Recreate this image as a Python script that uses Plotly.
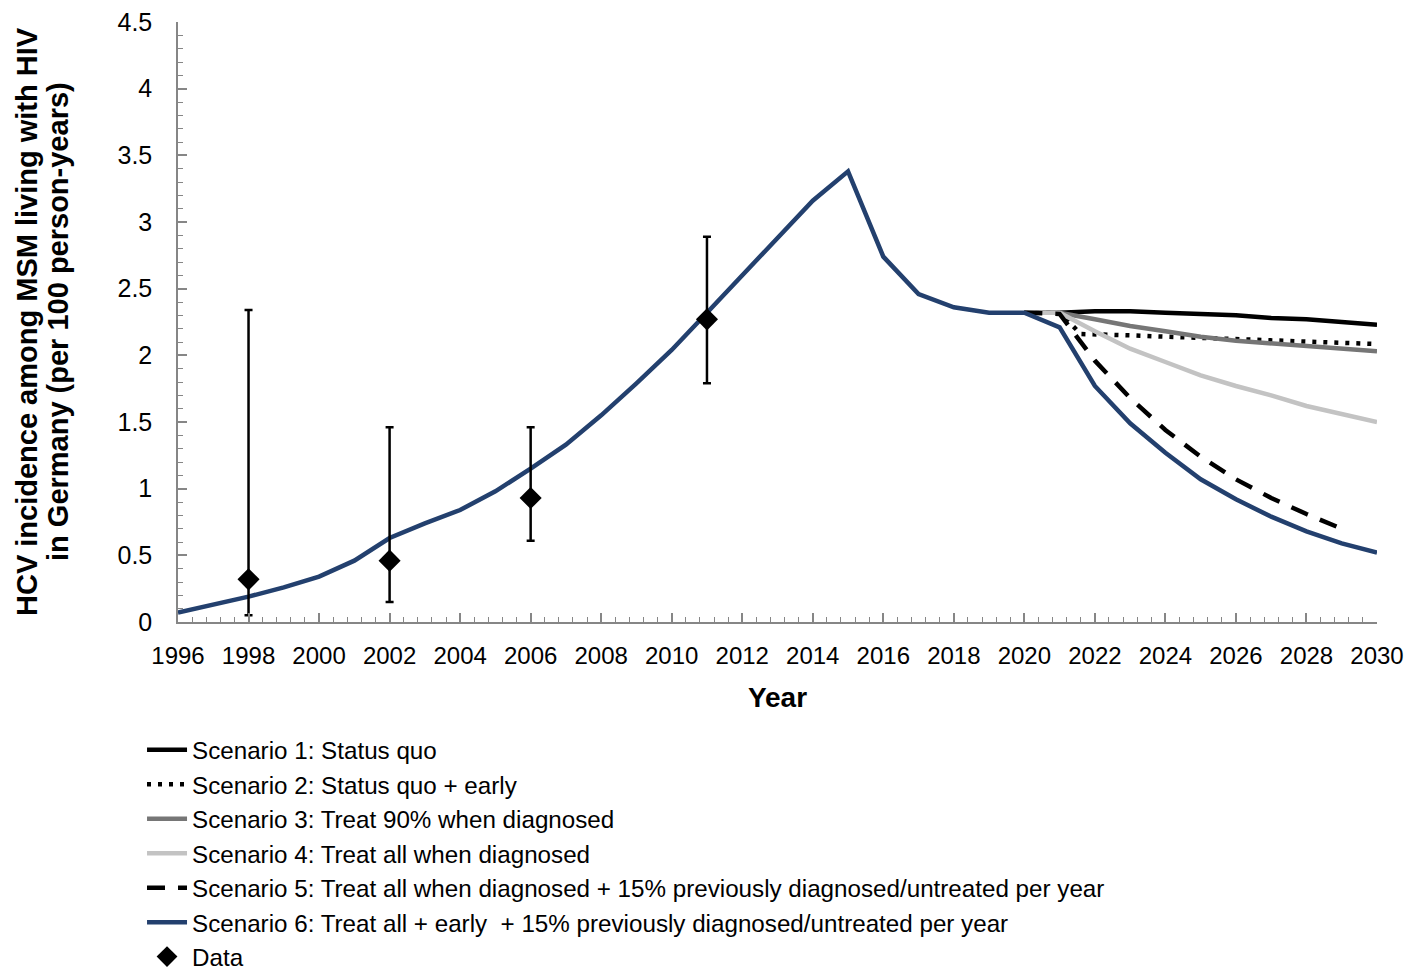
import plotly.graph_objects as go

FONT = "Liberation Sans, Arial, sans-serif"

years_hist = list(range(1996, 2031))
s6 = [0.07, 0.13, 0.19, 0.26, 0.34, 0.46, 0.63, 0.74, 0.84, 0.98,
      1.15, 1.33, 1.55, 1.79, 2.04, 2.32, 2.60, 2.89, 3.16, 3.38,
      2.74, 2.46, 2.36, 2.32, 2.32, 2.21, 1.77, 1.49, 1.27, 1.07,
      0.92, 0.79, 0.68, 0.59, 0.52]

years_proj = list(range(2020, 2031))
s1 = [2.32, 2.32, 2.33, 2.33, 2.32, 2.31, 2.30, 2.28, 2.27, 2.25, 2.23]
years_s2 = [2020, 2021, 2021.6, 2022, 2023, 2024, 2025, 2026, 2027, 2028, 2029, 2030]
s2 = [2.32, 2.32, 2.16, 2.155, 2.15, 2.14, 2.13, 2.12, 2.11, 2.10, 2.095, 2.085]
s3 = [2.32, 2.32, 2.27, 2.22, 2.18, 2.14, 2.11, 2.09, 2.07, 2.05, 2.03]
s4 = [2.32, 2.32, 2.18, 2.05, 1.95, 1.85, 1.77, 1.70, 1.62, 1.56, 1.50]
years_s5 = list(range(2020, 2030))
s5 = [2.32, 2.31, 1.96, 1.68, 1.44, 1.24, 1.07, 0.93, 0.81, 0.70]

data_years = [1998, 2002, 2006, 2011]
data_vals = [0.32, 0.46, 0.93, 2.27]
data_lo = [0.05, 0.15, 0.61, 1.79]
data_hi = [2.34, 1.46, 1.46, 2.89]

names = [
    "Scenario 1: Status quo",
    "Scenario 2: Status quo + early",
    "Scenario 3: Treat 90% when diagnosed",
    "Scenario 4: Treat all when diagnosed",
    "Scenario 5: Treat all when diagnosed + 15% previously diagnosed/untreated per year",
    "Scenario 6: Treat all + early  + 15% previously diagnosed/untreated per year",
    "Data",
]
y_title_lines = ["HCV incidence among MSM living with HIV",
                 "in Germany (per 100 person-years)"]

LW = 4.5
fig = go.Figure()
fig.add_trace(go.Scatter(x=years_proj, y=s1, mode="lines", name=names[0],
                         line=dict(color="#000000", width=LW)))
fig.add_trace(go.Scatter(x=years_s2, y=s2, mode="lines", name=names[1],
                         line=dict(color="#000000", width=LW, dash="4px,7px")))
fig.add_trace(go.Scatter(x=years_proj, y=s3, mode="lines", name=names[2],
                         line=dict(color="#767676", width=LW)))
fig.add_trace(go.Scatter(x=years_proj, y=s4, mode="lines", name=names[3],
                         line=dict(color="#C3C3C3", width=LW)))
fig.add_trace(go.Scatter(x=years_s5, y=s5, mode="lines", name=names[4],
                         line=dict(color="#000000", width=LW, dash="18px,13px")))
fig.add_trace(go.Scatter(x=years_hist, y=s6, mode="lines", name=names[5],
                         line=dict(color="#23406E", width=LW)))
fig.add_trace(go.Scatter(
    x=data_years, y=data_vals, mode="markers", name=names[6],
    marker=dict(symbol="diamond", size=17, color="#000000"),
    error_y=dict(type="data", symmetric=False,
                 array=[h - v for h, v in zip(data_hi, data_vals)],
                 arrayminus=[v - l for l, v in zip(data_lo, data_vals)],
                 color="#000000", thickness=2.5, width=4)))

fig.update_layout(
    width=1421, height=972,
    margin=dict(l=178, r=44, t=22, b=350, autoexpand=False),
    plot_bgcolor="white", paper_bgcolor="white",
    font=dict(family=FONT, size=24, color="#000000"),
    showlegend=True,
    legend=dict(x=-0.03, y=-0.176, xanchor="left", yanchor="top",
                font=dict(family=FONT, size=24.2, color="#000000"),
                bgcolor="rgba(0,0,0,0)", itemwidth=40, tracegroupgap=0),
)
for txt, xp in zip(y_title_lines, [27, 58]):
    fig.add_annotation(
        text=f"<b>{txt}</b>", textangle=-90, showarrow=False,
        xref="paper", yref="paper",
        x=(xp - 178) / 1199, y=0.5, xanchor="center", yanchor="middle",
        font=dict(family=FONT, size=29, color="#000000"))

fig.update_xaxes(
    range=[1996, 2030], tick0=1996, dtick=2,
    showline=True, linecolor="#868686", linewidth=1.5,
    ticks="inside", ticklen=9, tickwidth=1.5, tickcolor="#868686",
    minor=dict(dtick=0.4, tick0=1996, ticks="inside", ticklen=5, tickwidth=1.2, tickcolor="#868686"),
    showgrid=False, zeroline=False,
    tickfont=dict(family=FONT, size=24), ticklabelstandoff=11,
    title=dict(text="<b>Year</b>", font=dict(family=FONT, size=28), standoff=20),
)
fig.update_yaxes(
    range=[0, 4.5], tick0=0, dtick=0.5,
    showline=True, linecolor="#868686", linewidth=1.5,
    ticks="inside", ticklen=9, tickwidth=1.5, tickcolor="#868686",
    minor=dict(dtick=0.1, tick0=0, ticks="inside", ticklen=5, tickwidth=1.2, tickcolor="#868686"),
    showgrid=False, zeroline=False,
    tickfont=dict(family=FONT, size=25), ticklabelstandoff=19,
    ticklabeloverflow="allow",
)

fig.write_html("out.html", config={"displayModeBar": False},
               post_script="document.body.style.margin='0px';document.body.style.overflow='hidden';")
